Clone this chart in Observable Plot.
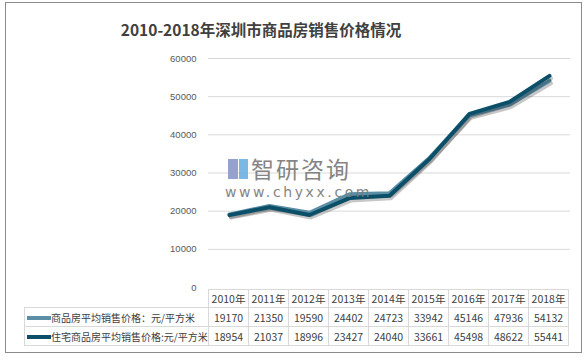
<!DOCTYPE html>
<html><head><meta charset="utf-8">
<script src="https://cdn.jsdelivr.net/npm/d3@7"></script>
<script src="https://cdn.jsdelivr.net/npm/@observablehq/plot@0.6"></script>
<style>
body{margin:0;background:#fff;}
#wrap{position:relative;width:587px;height:361px;overflow:hidden;font-family:"Noto Sans CJK SC",sans-serif;}
#frame{position:absolute;left:5px;top:2px;width:575px;height:349px;border:1.5px solid #8a8a8a;}
#title{position:absolute;left:0;width:522px;top:18px;text-align:center;font-size:15.5px;font-weight:bold;color:#404040;line-height:22px;}
#chart{position:absolute;left:0;top:0;z-index:3;}
#tbl{position:absolute;left:24px;top:289px;border-collapse:collapse;table-layout:fixed;font-family:"Liberation Sans Narrow","Noto Sans CJK SC",sans-serif;font-size:10.5px;color:#404040;}
#tbl td{border:1px solid #d9d9d9;padding:0;text-align:center;white-space:nowrap;overflow:hidden;}
#tbl tr.h td{height:17px;}
#tbl tr.r td{height:18px;}
#tbl td.lg{text-align:left;font-family:"Noto Sans CJK SC",sans-serif;font-size:10px;}
#tbl td.blank{border:none;}
.sw{display:inline-block;width:24px;height:3.5px;vertical-align:middle;margin:0 0 0 2px;position:relative;top:-1px;}
#wm{position:absolute;left:226px;top:153px;color:#7b7b7b;opacity:0.92;z-index:4;}
#wm .cn{position:absolute;left:25px;top:0;font-size:23px;letter-spacing:2px;white-space:nowrap;line-height:30px;}
#wm .url{position:absolute;left:-1px;top:31px;font-size:14px;letter-spacing:2.6px;white-space:nowrap;font-family:"DejaVu Sans",sans-serif;line-height:16px;}
#wm .l1{position:absolute;left:2px;top:6px;width:10px;height:20px;background:#8d9cc8;}
#wm .l2{position:absolute;left:13px;top:6px;width:9px;height:20px;background:#71b2e2;}
</style></head>
<body>
<div id="wrap">
  <div id="frame"></div>
  <table id="tbl"></table>
  <div id="chart"></div>
  <div id="title">2010-2018年深圳市商品房销售价格情况</div>
  <div id="wm"><div class="l1"></div><div class="l2"></div><div class="cn">智研咨询</div><div class="url">www.chyxx.com</div></div>
</div>
<script>
const years = ["2010年","2011年","2012年","2013年","2014年","2015年","2016年","2017年","2018年"];
const seriesNames = ["商品房平均销售价格：元/平方米","住宅商品房平均销售价格:元/平方米"];
const commercial = [19170,21350,19590,24402,24723,33942,45146,47936,54132];
const residential = [18954,21037,18996,23427,24040,33661,45498,48622,55441];
const colors = ["#5b8fa6","#0b4f69"];
const yTicks = [0,10000,20000,30000,40000,50000,60000];
const yTickLabels = ["0","10000","20000","30000","40000","50000","60000"];

const rows = [];
[commercial, residential].forEach((vals, s) => {
  years.forEach((y, i) => rows.push({series: seriesNames[s], year: y, value: vals[i]}));
});
const tickRows = yTicks.map((v, i) => ({v, label: yTickLabels[i]}));

const plot = Plot.plot({
  width: 587, height: 300,
  marginLeft: 208, marginRight: 17, marginTop: 58, marginBottom: 13,
  style: {background: "transparent", fontFamily: "Liberation Sans, sans-serif", overflow: "visible"},
  x: {type: "band", domain: years, padding: 0, axis: null},
  y: {domain: [0, 60000], axis: null},
  marks: [
    Plot.gridY(yTicks.filter(d => d > 0), {stroke: "#d9d9d9", strokeOpacity: 1, strokeWidth: 1}),
    Plot.text(tickRows, {y: "v", text: "label", frameAnchor: "left", textAnchor: "end", dx: -12, fill: "#595959", fontSize: 9.5}),
    Plot.lineY(rows.filter(d => d.series === seriesNames[0]), {x: "year", y: "value", stroke: "#000", strokeOpacity: 0.22, strokeWidth: 4, dx: 1.5, dy: 2.5}),
    Plot.lineY(rows.filter(d => d.series === seriesNames[0]), {x: "year", y: "value", stroke: colors[0], strokeWidth: 4, strokeLinejoin: "round"}),
    Plot.lineY(rows.filter(d => d.series === seriesNames[1]), {x: "year", y: "value", stroke: "#000", strokeOpacity: 0.22, strokeWidth: 4, dx: 1.5, dy: 2.5}),
    Plot.lineY(rows.filter(d => d.series === seriesNames[1]), {x: "year", y: "value", stroke: colors[1], strokeWidth: 4, strokeLinejoin: "round"})
  ]
});
document.getElementById("chart").appendChild(plot);

// table aligned to x scale
const xs = plot.scale("x");
const bw = xs.bandwidth || (570 - 208) / years.length;
const x0 = xs.range ? xs.range[0] : 208;
const tbl = document.getElementById("tbl");
const firstW = x0 - 24;
let html = `<colgroup><col style="width:${firstW}px">` + years.map(() => `<col style="width:${bw}px">`).join("") + `</colgroup>`;
html += `<tr class="h"><td class="blank"></td>` + years.map(y => `<td>${y}</td>`).join("") + `</tr>`;
[commercial, residential].forEach((vals, s) => {
  html += `<tr class="r"><td class="lg"><span class="sw" style="background:${colors[s]}"></span>${seriesNames[s]}</td>` + vals.map(v => `<td>${v}</td>`).join("") + `</tr>`;
});
tbl.innerHTML = html;
tbl.style.width = (firstW + bw * years.length) + "px";
</script>
</body></html>
